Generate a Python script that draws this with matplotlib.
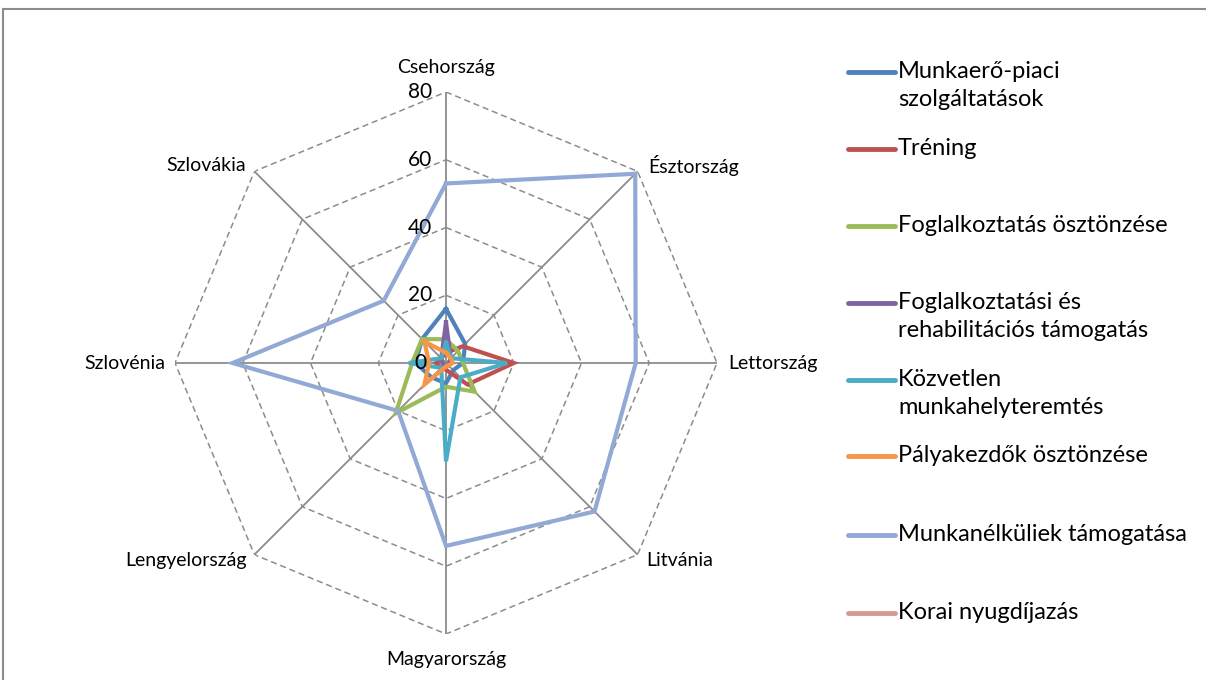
import numpy as np
import matplotlib
matplotlib.use("Agg")
import matplotlib.pyplot as plt
from matplotlib.lines import Line2D
from matplotlib.patches import Rectangle

plt.rcParams["font.family"] = ["Lato", "DejaVu Sans"]

categories = ["Csehország", "Észtország", "Lettország", "Litvánia",
              "Magyarország", "Lengyelország", "Szlovénia", "Szlovákia"]

series_names = [
    "Munkaerő-piaci\nszolgáltatások",
    "Tréning",
    "Foglalkoztatás ösztönzése",
    "Foglalkoztatási és\nrehabilitációs támogatás",
    "Közvetlen\nmunkahelyteremtés",
    "Pályakezdők ösztönzése",
    "Munkanélküliek támogatása",
    "Korai nyugdíjazás",
]

munkaero_piaci = [16, 8, 5, 3, 6, 6, 9, 10]
trening = [3, 7, 20, 9, 2, 2, 3, 2]
foglalkoztatas = [7, 5, 5, 12, 7, 21, 10, 10]
rehabilitacio = [12, 2, 1, 1, 1, 1, 1, 2]
kozvetlen = [6, 2, 18, 6, 29, 2, 11, 2]
palyakezdok = [3, 2, 2, 1, 1, 9, 5, 9]
munkanelkuliek = [53, 79, 56, 62, 54, 20, 63, 26]
korai_nyugdij = [0, 0, 0, 0, 0, 0, 0, 0]

all_series = [munkaero_piaci, trening, foglalkoztatas, rehabilitacio,
              kozvetlen, palyakezdok, munkanelkuliek, korai_nyugdij]
colors = ["#4F81BD", "#C0504D", "#9BBB59", "#8064A2",
          "#4BACC6", "#F79646", "#92A9D6", "#D99694"]
r_ticks = [0, 20, 40, 60, 80]

fig = plt.figure(figsize=(12.06, 6.80), dpi=100)
W, H = 1206, 680
cx, cy, rad = 446, 363, 271
ax = fig.add_axes([(cx - rad) / W, (H - cy - rad) / H, 2 * rad / W, 2 * rad / H],
                  projection="polar")
ax.set_theta_offset(np.pi / 2)
ax.set_theta_direction(-1)
ax.set_ylim(0, 80)
ax.grid(False)
ax.set_xticks([])
ax.set_yticks([])
ax.spines["polar"].set_visible(False)
ax.patch.set_alpha(0)

n = len(categories)
theta = np.arange(n) * 2 * np.pi / n
theta_closed = np.append(theta, theta[0])

# octagon grid
for r in r_ticks[1:]:
    ax.plot(theta_closed, [r] * (n + 1), color="#8C8C8C", lw=1.1, ls=(0, (4, 2.5)), zorder=1)
for t in theta:
    ax.plot([t, t], [0, 80], color="#8C8C8C", lw=1.3, zorder=1)

for vals, c in zip(all_series, colors):
    ax.plot(theta_closed, list(vals) + [vals[0]], color=c, lw=3, zorder=3,
            solid_joinstyle="miter")

for r in r_ticks:
    ax.annotate(str(r), (0, r), xytext=(-26, 0), textcoords="offset pixels",
                ha="center", va="center", fontsize=15, zorder=4)

label_offsets = [(0, 24, "center"), (11, 6, "left"), (11, 0, "left"), (9, -6, "left"),
                 (0, -26, "center"), (-8, -6, "right"), (-10, 0, "right"), (-8, 6, "right")]
for t, name, (dx, dy, ha) in zip(theta, categories, label_offsets):
    ax.annotate(name, (t, 80), xytext=(dx, dy), textcoords="offset pixels",
                ha=ha, va="center", fontsize=14)

# legend, evenly spaced like the spreadsheet original
leg_y = [72, 149, 226, 303, 380, 456, 535, 613]
for y, name, c in zip(leg_y, series_names, colors):
    fy = (H - y) / H
    fig.add_artist(Line2D([848 / W, 895 / W], [fy, fy], color=c, lw=3.5,
                          solid_capstyle="round"))
    fig.text(898 / W, fy + 11 / H, name, ha="left", va="top", fontsize=17,
             linespacing=1.4)

fig.add_artist(Rectangle((3 / W, -0.05), 1.2, (H - 9) / H + 0.05, fill=False,
                         edgecolor="#8C8C8C", lw=1.5, transform=fig.transFigure))

fig.savefig("out.png", dpi=100)
